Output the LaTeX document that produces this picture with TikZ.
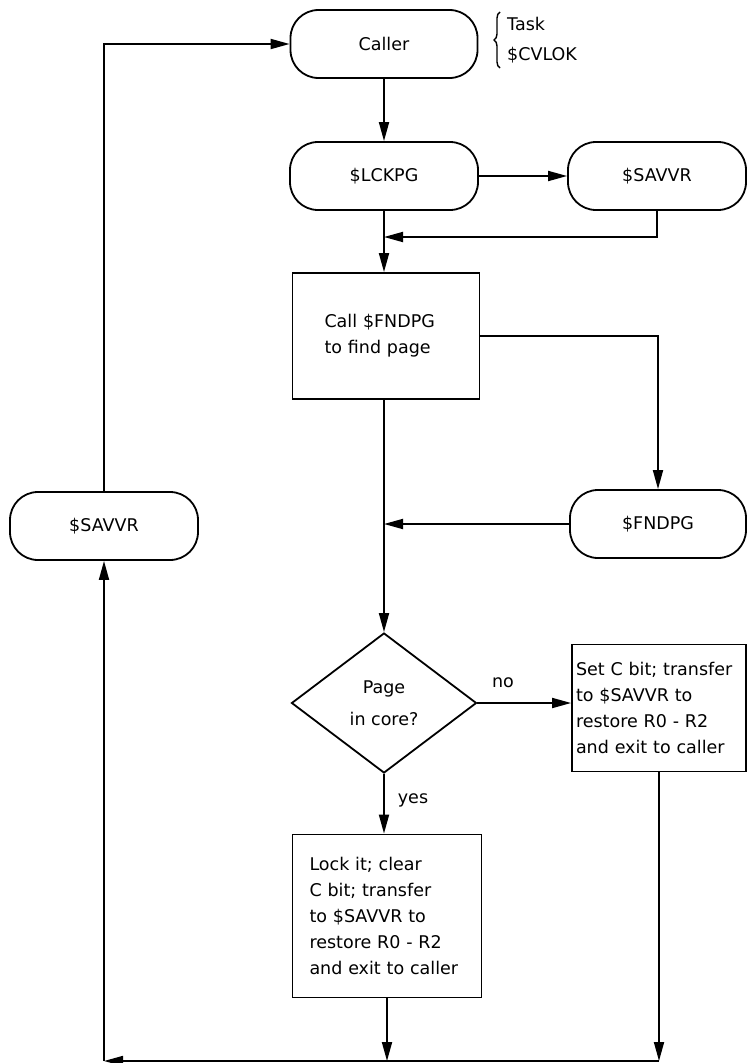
\documentclass[tikz,border=0pt]{standalone}
\usepackage{fontspec}
\setmainfont{DejaVu Sans}
\usetikzlibrary{shapes.geometric,arrows.meta,decorations.pathreplacing}

\begin{document}
\begin{tikzpicture}[x=1pt,y=-1pt,line width=1.8pt,
	every node/.style={font=\fontsize{17.5pt}{26pt}\selectfont},
	term/.style={draw,rectangle,rounded corners=28pt,minimum height=68pt,inner sep=0pt},
	proc/.style={draw,rectangle,inner sep=0pt,align=left},
	test/.style={draw,diamond,inner sep=0pt,align=center},
	flow/.style={-{Triangle[length=19pt,width=10pt]}}]
	\useasboundingbox (0,0) rectangle (748,1063);
	% nodes
	\node[term,minimum width=187pt] (caller) at (384,44) {Caller};
	\draw[line width=1.4pt,decorate,decoration={brace,amplitude=6pt}] (500,68) -- (500,12);
	\node[anchor=west,align=left,font=\fontsize{17.5pt}{30pt}\selectfont] (tasknote) at (503,40) {Task\\\$CVLOK};
	\node[term,minimum width=188pt] (lckpg) at (384,176) {\$LCKPG};
	\node[term,minimum width=178pt] (savvr1) at (657,176) {\$SAVVR};
	\node[proc,text width=123pt,minimum width=187pt,minimum height=126pt] (findbox) at (386,336) {Call \$FNDPG\\to find page};
	\node[term,minimum width=176pt] (fndpg) at (658,524) {\$FNDPG};
	\node[term,minimum width=188pt] (savvr2) at (104,526) {\$SAVVR};
	\node[test,minimum width=185pt,minimum height=140pt] (incore) at (384,703) {Page\\[6pt]in core?};
	\node[proc,text width=166pt,minimum width=174pt,minimum height=127pt] (setc) at (659,708) {Set C bit; transfer\\to \$SAVVR to\\restore R0 - R2\\and exit to caller};
	\node[proc,text width=155pt,minimum width=189pt,minimum height=163pt] (lockit) at (387,916) {Lock it; clear\\C bit; transfer\\to \$SAVVR to\\restore R0 - R2\\and exit to caller};
	\node (no) at (503,683) {no};
	\node (yes) at (413,800) {yes};
	\coordinate (join1) at (384,237);
	\coordinate (back) at (104,1061);
	% connectors
	\draw[flow] (caller) -- (lckpg);
	\draw[flow] (lckpg) -- (savvr1);
	\draw[flow] (savvr1.south) |- (join1);
	\draw[flow] (lckpg) -- (lckpg |- findbox.north);
	\draw[flow] (findbox.east) -| (fndpg.north);
	\draw[flow] (incore.north |- findbox.south) -- (incore.north);
	\draw[flow] (fndpg.west) -- (fndpg.west -| incore);
	\draw[flow] (incore.east) -- (incore.east -| setc.west);
	\draw[flow] (incore.south) -- (incore.south |- lockit.north);
	\draw[flow] (lockit.south) -- (lockit.south |- back);
	\draw[flow] (setc.south) -- (setc.south |- back);
	\draw[flow] (setc.south |- back) -- (back);
	\draw[flow] (back) -- (savvr2.south);
	\draw[flow] (savvr2.north) |- (caller.west);
\end{tikzpicture}
\end{document}
